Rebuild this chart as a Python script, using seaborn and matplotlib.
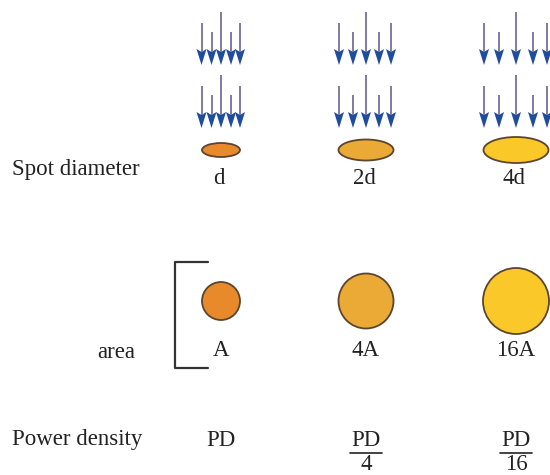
import matplotlib
matplotlib.use("Agg")
import matplotlib.pyplot as plt
import seaborn as sns
from matplotlib.patches import Ellipse, Circle, Polygon

# Data (pixel space of the 550x475 picture)
spot_labels = ['d', '2d', '4d']
area_labels = ['A', '4A', '16A']
pd_num = ['PD', 'PD', 'PD']
pd_den = ['', '4', '16']
col_x = [221, 366, 516]
spot_w = [38, 55, 65]
spot_h = [14, 21, 26]
circle_r = [19, 27.5, 33]
fill_colors = ['#e8892b', '#eba935', '#fbc82a']
arrow_dx = [[-19.5, -9.5, 0, 10, 19], [-27, -13, 0, 13, 25], [-32, -17, 0, 17, 31]]
row1_tops = [23, 32, 12, 32, 23]
row2_tops = [86, 95, 75, 95, 86]
row_tips = [65, 128]

sns.set_theme(style="white")
plt.rcParams['font.family'] = ['Liberation Serif', 'DejaVu Serif']

fig = plt.figure(figsize=(5.5, 4.75), dpi=100)
ax = fig.add_axes([0, 0, 1, 1])
ax.set_xlim(0, 550)
ax.set_ylim(475, 0)
ax.axis('off')

fs = 16.5
txt = '#222222'
edge = '#5a4630'


def draw_arrow(x, top, tip):
    head_len, head_w = 16, 10
    ax.plot([x, x], [top, tip - head_len + 3], color='#7e7aa2', lw=1.4, solid_capstyle='butt')
    ax.add_patch(Polygon([[x - head_w / 2, tip - head_len], [x, tip - head_len + 3],
                          [x + head_w / 2, tip - head_len], [x, tip]],
                         closed=True, color='#1f4d9e', lw=0))


for i, cx in enumerate(col_x):
    # two rows of incident arrows
    for j, dx in enumerate(arrow_dx[i]):
        draw_arrow(cx + dx, row1_tops[j], row_tips[0])
        draw_arrow(cx + dx, row2_tops[j], row_tips[1])
    # spot ellipse
    ax.add_patch(Ellipse((cx, 150), spot_w[i], spot_h[i], facecolor=fill_colors[i],
                         edgecolor=edge, lw=1.3))
    ax.text(cx - 2, 178, spot_labels[i], ha='center', va='center', fontsize=fs, color=txt)
    # area circle
    ax.add_patch(Circle((cx, 301), circle_r[i], facecolor=fill_colors[i], edgecolor=edge, lw=1.3))
    ax.text(cx, 351, area_labels[i], ha='center', va='center', fontsize=fs, color=txt)
    # power density
    ax.text(cx, 441, pd_num[i], ha='center', va='center', fontsize=fs, color=txt)
    if pd_den[i]:
        ax.plot([cx - 16, cx + 16], [453, 453], color=txt, lw=1.2)
        ax.text(cx, 465, pd_den[i], ha='center', va='center', fontsize=fs, color=txt)

# bracket next to the first circle
ax.plot([208, 175, 175, 208], [262, 262, 368, 368], color='#333333', lw=1.6)

# row labels
ax.text(12, 170, 'Spot diameter', ha='left', va='center', fontsize=fs, color=txt)
ax.text(135, 352, 'area', ha='right', va='center', fontsize=fs, color=txt)
ax.text(12, 440, 'Power density', ha='left', va='center', fontsize=fs, color=txt)

fig.savefig('out.png', dpi=100)
